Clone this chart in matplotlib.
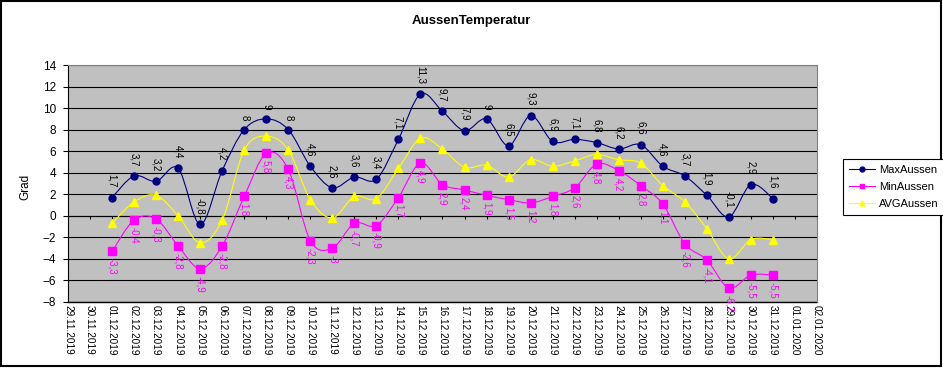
import numpy as np
import matplotlib
matplotlib.use("Agg")
import matplotlib.pyplot as plt
from matplotlib.path import Path
from matplotlib.patches import PathPatch, Rectangle
from matplotlib.lines import Line2D

plt.rcParams["font.family"] = ["Liberation Sans", "DejaVu Sans"]

# category axis: 29.11.2019 .. 02.01.2020
dates = ["29.11.2019", "30.11.2019"] + [f"{d:02d}.12.2019" for d in range(1, 32)] + ["01.01.2020", "02.01.2020"]
first_idx = 2  # data starts at 01.12.2019

max_aussen = [1.7, 3.7, 3.2, 4.4, -0.8, 4.2, 8, 9, 8, 4.6, 2.6, 3.6, 3.4, 7.1, 11.3, 9.7,
              7.9, 9, 6.5, 9.3, 6.9, 7.1, 6.8, 6.2, 6.6, 4.6, 3.7, 1.9, -0.1, 2.9, 1.6]
min_aussen = [-3.3, -0.4, -0.3, -2.8, -4.9, -2.8, 1.8, 5.8, 4.3, -2.3, -3, -0.7, -0.9, 1.7, 4.9, 2.9,
              2.4, 1.9, 1.5, 1.2, 1.8, 2.6, 4.8, 4.2, 2.8, 1.1, -2.6, -4.1, -6.7, -5.5, -5.5]
avg_aussen = [-0.7, 1.3, 1.9, 0.0, -2.5, -0.4, 6.1, 7.4, 6.1, 1.5, -0.2, 1.8, 1.6, 4.4, 7.2, 6.2,
              4.5, 4.7, 3.6, 5.2, 4.6, 5.1, 5.7, 5.2, 4.9, 2.8, 1.3, -1.2, -4.0, -2.2, -2.2]

NAVY = "#000080"
MAG = "#FF00FF"
YEL = "#FFFF00"
PLOT_BG = "#C0C0C0"


def smooth_path(xs, ys):
    # excel style smoothed line: cubic bezier, catmull-rom control points
    pts = np.column_stack([xs, ys]).astype(float)
    n = len(pts)
    verts = [pts[0]]
    codes = [Path.MOVETO]
    for i in range(n - 1):
        p0 = pts[i - 1] if i > 0 else pts[i]
        p1 = pts[i]
        p2 = pts[i + 1]
        p3 = pts[i + 2] if i + 2 < n else pts[i + 1]
        verts += [p1 + (p2 - p0) / 6, p2 - (p3 - p1) / 6, p2]
        codes += [Path.CURVE4] * 3
    return Path(verts, codes)


def fmt(v):
    return f"{v:g}".replace(".", ",")


W, H = 943, 368
fig = plt.figure(figsize=(W / 100, H / 100), dpi=100)
ax = fig.add_axes([68 / W, 66 / H, 749 / W, 237 / H])
ax.set_facecolor(PLOT_BG)

x = np.arange(first_idx, first_idx + len(max_aussen))

series = [
    (max_aussen, NAVY, "o", 5, "MaxAussen"),
    (min_aussen, MAG, "s", 5.5, "MinAussen"),
    (avg_aussen, YEL, "^", 5.5, "AVGAussen"),
]
handles = []
for k, (vals, col, mk, ms, name) in enumerate(series):
    ax.add_patch(PathPatch(smooth_path(x, vals), fill=False, edgecolor=col, lw=0.8, zorder=3 + k))
    ax.plot(x, vals, ls="none", marker=mk, ms=ms, color=col, mec=col, zorder=3 + k)
    handles.append(Line2D([], [], color=col, lw=0.8, marker=mk, ms=3.5, mec=col, label=name))

# data labels
for xi, v in zip(x, max_aussen):
    ax.annotate(fmt(v), (xi, v), xytext=(0, 7), textcoords="offset points", rotation=270,
                ha="center", va="bottom", fontsize=7, color="black", zorder=10)
for xi, v in zip(x, min_aussen):
    ax.annotate(fmt(v), (xi, v), xytext=(0, -5), textcoords="offset points", rotation=270,
                ha="center", va="top", fontsize=7, color=MAG, zorder=10, annotation_clip=False)

ax.set_xlim(0, len(dates) - 1)
ax.set_ylim(-8, 14)
ax.set_yticks(np.arange(-8, 15, 2))
ax.yaxis.grid(True, color="black", lw=0.8)
ax.set_axisbelow(True)
ax.tick_params(axis="y", direction="out", length=3.5, width=0.8, pad=5, labelsize=8.5)

# category axis crosses at 0, labels stay at the bottom
ax.spines["bottom"].set_position(("data", 0))
ax.spines["bottom"].set_linewidth(0.8)
ax.set_xticks(range(len(dates)))
ax.tick_params(axis="x", direction="out", length=2.5, width=0.8, labelbottom=False)
ax.spines["left"].set_linewidth(0.8)
for s in ("top", "right"):
    ax.spines[s].set_color("#808080")
    ax.spines[s].set_linewidth(0.8)

sec = ax.secondary_xaxis("bottom")
sec.set_xticks(range(len(dates)), labels=dates, rotation=270, fontsize=7.2)
sec.tick_params(length=0, pad=2.5)
sec.spines["bottom"].set_linewidth(1.0)

fig.text(0.5, 1 - 21 / H, "AussenTemperatur", ha="center", va="center", fontsize=9.5, fontweight="bold")
fig.text(25 / W, 1 - 187 / H, "Grad", ha="center", va="center", rotation=90, fontsize=8.5)

leg = fig.legend(handles=handles, loc="upper left", bbox_to_anchor=(837 / W, 1 - 153 / H),
                 fontsize=8, frameon=True, fancybox=False, framealpha=1, edgecolor="black",
                 handlelength=2.3, labelspacing=0.6, borderpad=0.6, handletextpad=0.4)
leg.get_frame().set_linewidth(0.8)

fig.add_artist(Rectangle((1 / W, 2 / H), 940 / W, 365 / H, transform=fig.transFigure,
                         fill=False, edgecolor="black", lw=1.5))

fig.savefig("out.png", dpi=100)
